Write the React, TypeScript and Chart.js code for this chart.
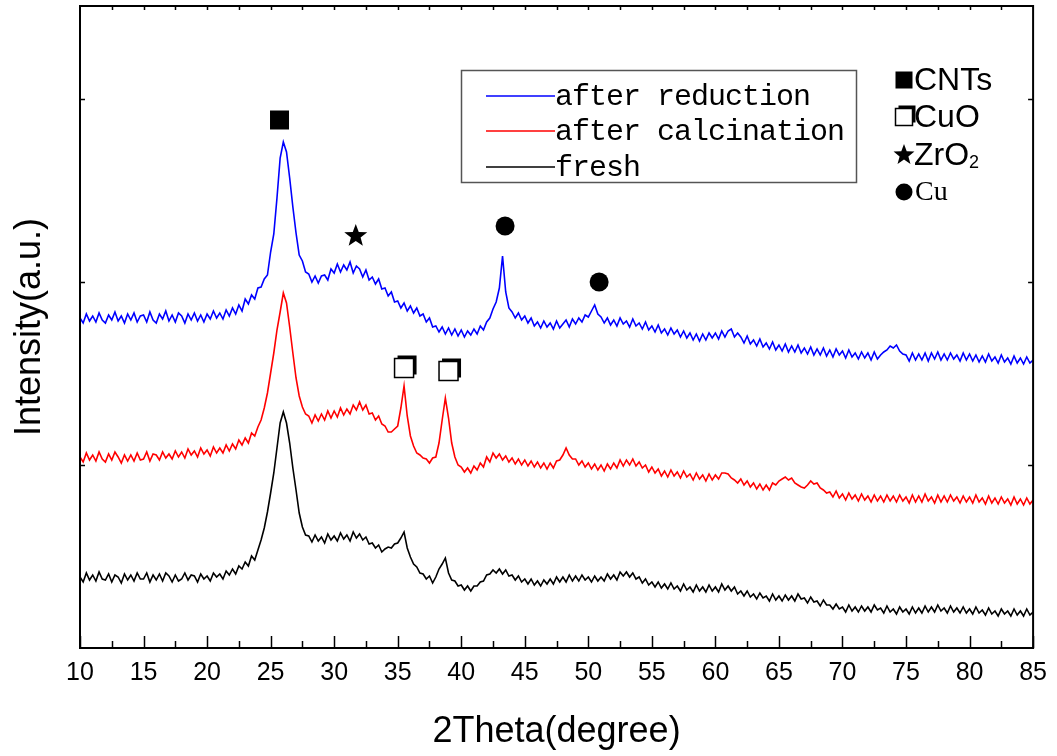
import React, { useEffect, useRef } from 'react';
import { Chart, registerables } from 'chart.js';

Chart.register(...registerables);

// 2θ sampling grid: 10° to 85° in 0.25° steps (301 samples)
const twoThetaStart = 10;
const twoThetaStep = 0.25;

// Intensities (arbitrary units, stacked offsets as in the figure)
const afterReduction = [
  330, 325, 334, 327, 332, 326, 335, 328, 325, 333, 328, 336, 327, 332, 325, 334,
  328, 335, 326, 332, 333, 326, 336, 328, 325, 334, 329, 337, 327, 333, 326, 335,
  332, 325, 334, 328, 335, 327, 333, 326, 334, 329, 337, 330, 335, 329, 338, 332,
  340, 334, 343, 337, 349, 344, 353, 349, 360, 361, 369, 373, 396, 414, 450, 490,
  506, 496, 470, 441, 415, 393, 387, 376, 374, 366, 372, 365, 372, 373, 368, 379,
  375, 384, 376, 383, 378, 386, 375, 382, 379, 371, 378, 368, 371, 364, 369, 359,
  360, 352, 356, 346, 347, 340, 345, 337, 342, 335, 340, 332, 334, 326, 330, 321,
  322, 316, 321, 314, 320, 313, 319, 312, 318, 311, 317, 313, 319, 314, 322, 318,
  326, 330, 339, 346, 360, 392, 356, 340, 336, 330, 335, 328, 332, 325, 330, 322,
  326, 320, 327, 321, 325, 319, 327, 320, 324, 328, 321, 329, 324, 330, 326, 333,
  331, 337, 343, 334, 331, 325, 330, 323, 328, 322, 330, 324, 327, 321, 329, 322,
  325, 319, 326, 318, 322, 316, 323, 315, 319, 313, 320, 314, 318, 311, 317, 310,
  315, 308, 314, 307, 314, 308, 315, 310, 315, 309, 317, 311, 317, 319, 311, 315,
  311, 305, 312, 304, 308, 302, 309, 301, 305, 299, 306, 298, 303, 297, 304, 296,
  302, 296, 303, 295, 300, 294, 301, 293, 299, 293, 300, 292, 298, 291, 299, 293,
  297, 290, 298, 291, 295, 289, 296, 290, 295, 288, 296, 289, 293, 296, 298, 302,
  300, 303, 297, 294, 293, 287, 295, 288, 294, 288, 295, 287, 295, 289, 296, 288,
  294, 288, 295, 289, 293, 287, 295, 288, 294, 287, 293, 286, 292, 286, 294, 287,
  291, 285, 293, 286, 290, 284, 292, 285, 290, 284, 291, 285, 288,
];

const afterCalcination = [
  191, 186, 195, 188, 193, 187, 196, 189, 186, 194, 188, 196, 191, 185, 193, 187,
  193, 187, 195, 188, 189, 196, 187, 194, 193, 188, 196, 190, 194, 189, 197, 191,
  196, 190, 199, 193, 197, 191, 200, 194, 198, 192, 201, 195, 200, 195, 203, 197,
  204, 199, 208, 203, 210, 205, 215, 212, 221, 228, 240, 255, 275, 295, 318, 336,
  355, 345, 321, 295, 270, 252, 241, 234, 232, 225, 233, 227, 234, 228, 237, 230,
  237, 231, 240, 233, 239, 234, 243, 238, 246, 238, 243, 234, 235, 228, 232, 224,
  222, 216, 216, 219, 222, 240, 262, 232, 212, 202, 195, 193, 190, 189, 185, 190,
  191, 205, 228, 250, 230, 205, 191, 183, 181, 176, 180, 175, 182, 178, 185, 181,
  191, 186, 195, 190, 194, 188, 192, 186, 190, 184, 189, 183, 188, 182, 187, 181,
  186, 180, 185, 179, 185, 180, 187, 188, 193, 200, 193, 189, 189, 183, 187, 181,
  185, 179, 184, 178, 183, 177, 184, 179, 185, 180, 188, 182, 188, 183, 189, 182,
  186, 180, 183, 176, 181, 175, 179, 172, 177, 171, 178, 172, 176, 170, 177, 171,
  174, 168, 175, 169, 173, 167, 174, 168, 173, 169, 175, 175, 174, 170, 168, 165,
  169, 163, 167, 161, 165, 159, 164, 158, 163, 158, 165, 163, 167, 169, 171, 168,
  170, 165, 163, 161, 160, 163, 167, 164, 165, 160, 158, 155, 156, 151, 157, 150,
  154, 148, 155, 149, 153, 147, 154, 148, 152, 146, 153, 147, 152, 146, 153, 147,
  152, 146, 153, 147, 151, 145, 153, 146, 152, 146, 154, 147, 151, 145, 153, 146,
  152, 146, 153, 147, 151, 145, 152, 146, 151, 145, 153, 146, 150, 144, 152, 145,
  150, 144, 151, 145, 149, 143, 151, 144, 149, 143, 150, 144, 148,
];

const fresh = [
  71, 66, 75, 68, 73, 67, 76, 69, 68, 74, 66, 73, 71, 65, 74, 68,
  73, 67, 75, 69, 69, 75, 66, 73, 68, 74, 67, 75, 72, 66, 73, 67,
  69, 75, 68, 73, 72, 66, 74, 69, 72, 67, 75, 71, 74, 69, 77, 73,
  79, 74, 82, 79, 86, 82, 92, 88, 98, 108, 120, 136, 155, 175, 200, 225,
  236, 225, 205, 180, 158, 135, 121, 113, 112, 106, 113, 107, 111, 105, 114, 108,
  112, 107, 115, 109, 113, 107, 116, 110, 114, 108, 111, 104, 105, 100, 103, 96,
  99, 101, 100, 104, 105, 110, 116, 100, 91, 84, 81, 75, 74, 69, 72, 65,
  71, 79, 84, 90, 75, 68, 67, 62, 63, 58, 62, 57, 62, 62, 66, 67,
  73, 74, 78, 75, 79, 74, 78, 72, 73, 68, 72, 66, 69, 64, 69, 63,
  67, 62, 68, 64, 69, 64, 71, 66, 71, 66, 73, 67, 72, 67, 73, 68,
  71, 66, 72, 67, 71, 67, 74, 69, 73, 68, 76, 72, 76, 71, 75, 69,
  71, 65, 69, 63, 66, 61, 66, 60, 64, 59, 65, 59, 62, 57, 64, 58,
  61, 56, 63, 57, 61, 56, 63, 57, 61, 56, 64, 58, 62, 57, 61, 54,
  57, 52, 57, 51, 54, 49, 55, 50, 52, 47, 54, 48, 52, 47, 53, 48,
  52, 47, 54, 49, 50, 45, 51, 46, 47, 42, 48, 43, 43, 39, 44, 39,
  41, 36, 43, 37, 41, 36, 42, 37, 41, 36, 43, 38, 40, 35, 42, 36,
  39, 34, 41, 36, 39, 34, 41, 35, 40, 35, 42, 36, 41, 36, 43, 37,
  40, 35, 42, 36, 40, 35, 41, 35, 39, 34, 41, 35, 38, 33, 40, 34,
  37, 32, 39, 34, 37, 32, 39, 33, 37, 32, 39, 33, 36,
];

const seriesLabels = ['after reduction', 'after calcination', 'fresh'];
const seriesColors = ['#0000ff', '#ff0000', '#000000'];

const xTickValues = [10, 15, 20, 25, 30, 35, 40, 45, 50, 55, 60, 65, 70, 75, 80, 85];
const yTickValues = [183, 366, 549];

// Phase markers above the peaks
const peakMarkerKinds = ['square', 'star', 'openSquare', 'openSquare', 'circle', 'circle'];
const peakMarkerX = [25.7, 31.7, 35.5, 39.0, 43.45, 50.85];
const peakMarkerY = [528, 412, 280, 277, 422, 366];

// Phase key
const phaseKinds = ['square', 'openSquare', 'star', 'circle'];
const phaseNames = ['CNTs', 'CuO', 'ZrO', 'Cu'];

const SANS = "'Liberation Sans', Arial, sans-serif";

function drawSymbol(ctx: CanvasRenderingContext2D, kind: string, cx: number, cy: number, s: number) {
  ctx.save();
  ctx.fillStyle = '#000';
  ctx.strokeStyle = '#000';
  if (kind === 'square') {
    ctx.fillRect(cx - s / 2, cy - s / 2, s, s);
  } else if (kind === 'circle') {
    ctx.beginPath();
    ctx.arc(cx, cy, s / 2, 0, Math.PI * 2);
    ctx.fill();
  } else if (kind === 'star') {
    const R = s * 0.55;
    const r = R * 0.42;
    ctx.beginPath();
    for (let i = 0; i < 10; i++) {
      const a = -Math.PI / 2 + (i * Math.PI) / 5;
      const rad = i % 2 === 0 ? R : r;
      const px = cx + rad * Math.cos(a);
      const py = cy + rad * Math.sin(a);
      if (i === 0) ctx.moveTo(px, py);
      else ctx.lineTo(px, py);
    }
    ctx.closePath();
    ctx.fill();
  } else if (kind === 'openSquare') {
    const x0 = cx - s / 2;
    const y0 = cy - s / 2;
    ctx.fillRect(x0 + 3, y0 - 3, s, s);
    ctx.fillStyle = '#fff';
    ctx.fillRect(x0, y0, s, s);
    ctx.lineWidth = 1.5;
    ctx.strokeRect(x0, y0, s, s);
  }
  ctx.restore();
}

const decorPlugin = {
  id: 'xrdDecor',
  afterDraw(chart: any) {
    const { ctx, chartArea } = chart;
    const xs = chart.scales.x;
    const ys = chart.scales.y;
    const { left, right, top, bottom } = chartArea;
    ctx.save();

    // frame
    ctx.strokeStyle = '#000';
    ctx.lineWidth = 2;
    ctx.strokeRect(left, top, right - left, bottom - top);

    // bottom and top ticks
    ctx.lineWidth = 1.5;
    for (let v = 10; v <= 85; v += 2.5) {
      const px = Math.round(xs.getPixelForValue(v)) + 0.5;
      const major = xTickValues.includes(v);
      ctx.beginPath();
      ctx.moveTo(px, bottom);
      ctx.lineTo(px, bottom - (major ? 12 : 7));
      ctx.stroke();
      if (v > 10 && v < 85) {
        ctx.beginPath();
        ctx.moveTo(px, top);
        ctx.lineTo(px, top + 4);
        ctx.stroke();
      }
    }
    // left / right ticks
    for (const v of yTickValues) {
      const py = Math.round(ys.getPixelForValue(v)) + 0.5;
      ctx.beginPath();
      ctx.moveTo(left, py);
      ctx.lineTo(left + 5, py);
      ctx.moveTo(right, py);
      ctx.lineTo(right - 5, py);
      ctx.stroke();
    }

    // peak markers
    peakMarkerKinds.forEach((k, i) => {
      const px = xs.getPixelForValue(peakMarkerX[i]);
      const py = ys.getPixelForValue(peakMarkerY[i]);
      const size = k === 'star' ? 22 : 19;
      drawSymbol(ctx, k, px, py, size);
    });

    // series legend box
    ctx.strokeStyle = '#555';
    ctx.lineWidth = 1.5;
    ctx.strokeRect(461.5, 70.5, 395, 112);
    const rowY = [96, 131, 167];
    ctx.font = "30px 'Liberation Mono', monospace";
    (ctx as any).letterSpacing = '-1px';
    ctx.textBaseline = 'middle';
    ctx.textAlign = 'left';
    chart.data.datasets.forEach((ds: any, i: number) => {
      ctx.strokeStyle = ds.borderColor;
      ctx.lineWidth = 1.3;
      ctx.beginPath();
      ctx.moveTo(486, rowY[i]);
      ctx.lineTo(555, rowY[i]);
      ctx.stroke();
      ctx.fillStyle = '#000';
      ctx.fillText(ds.label, 555, rowY[i] + 1);
    });
    (ctx as any).letterSpacing = '0px';

    // phase key
    const keyY = [80, 117, 155, 192];
    phaseKinds.forEach((k, i) => {
      drawSymbol(ctx, k, 904, keyY[i], k === 'star' ? 20 : 17);
      ctx.fillStyle = '#000';
      ctx.textBaseline = 'middle';
      if (phaseNames[i] === 'Cu') {
        ctx.font = "28px 'Liberation Serif', serif";
        ctx.fillText(phaseNames[i], 915, keyY[i] + 1);
      } else {
        ctx.font = `32px ${SANS}`;
        ctx.fillText(phaseNames[i], 914, keyY[i] + 1);
        if (phaseNames[i] === 'ZrO') {
          const w = ctx.measureText(phaseNames[i]).width;
          ctx.font = `18px ${SANS}`;
          ctx.fillText('2', 914 + w, keyY[i] + 8);
        }
      }
    });

    ctx.restore();
  },
};

export default function App() {
  const canvasRef = useRef<HTMLCanvasElement | null>(null);

  useEffect(() => {
    if (!canvasRef.current) return;
    const series = [afterReduction, afterCalcination, fresh];
    const datasets = series.map((vals, i) => ({
      label: seriesLabels[i],
      data: vals.map((y, j) => ({ x: twoThetaStart + j * twoThetaStep, y })),
      borderColor: seriesColors[i],
      backgroundColor: seriesColors[i],
      borderWidth: 1.6,
      pointRadius: 0,
      tension: 0,
      fill: false,
    }));

    const chart = new Chart(canvasRef.current, {
      type: 'line',
      data: { datasets },
      options: {
        responsive: false,
        animation: false,
        events: [],
        layout: { padding: { top: 6, right: 22, left: 0, bottom: 0 } },
        plugins: {
          legend: { display: false },
          tooltip: { enabled: false },
        },
        scales: {
          x: {
            type: 'linear',
            min: 10,
            max: 85,
            afterBuildTicks: (s: any) => {
              s.ticks = xTickValues.map((v) => ({ value: v }));
            },
            afterFit: (s: any) => {
              s.height = 108;
            },
            grid: { display: false, drawTicks: false },
            border: { display: false },
            ticks: {
              color: '#000',
              font: { family: SANS, size: 25 },
              padding: 10,
              maxRotation: 0,
              autoSkip: false,
            },
            title: {
              display: true,
              text: '2Theta(degree)',
              color: '#000',
              font: { family: SANS, size: 36 },
              padding: { top: 0, bottom: 2 },
            },
          },
          y: {
            type: 'linear',
            min: 0,
            max: 642,
            afterBuildTicks: (s: any) => {
              s.ticks = yTickValues.map((v) => ({ value: v }));
            },
            afterFit: (s: any) => {
              s.width = 80;
            },
            grid: { display: false, drawTicks: false },
            border: { display: false },
            ticks: { display: false },
            title: {
              display: true,
              text: 'Intensity(a.u.)',
              color: '#000',
              font: { family: SANS, size: 36 },
              padding: { top: 8, bottom: 0 },
            },
          },
        },
      } as any,
      plugins: [decorPlugin],
    });

    return () => chart.destroy();
  }, []);

  return (
    <div style={{ position: 'fixed', left: 0, top: 0, width: 1057, height: 756, background: '#fff' }}>
      <canvas ref={canvasRef} width={1057} height={756} />
    </div>
  );
}
